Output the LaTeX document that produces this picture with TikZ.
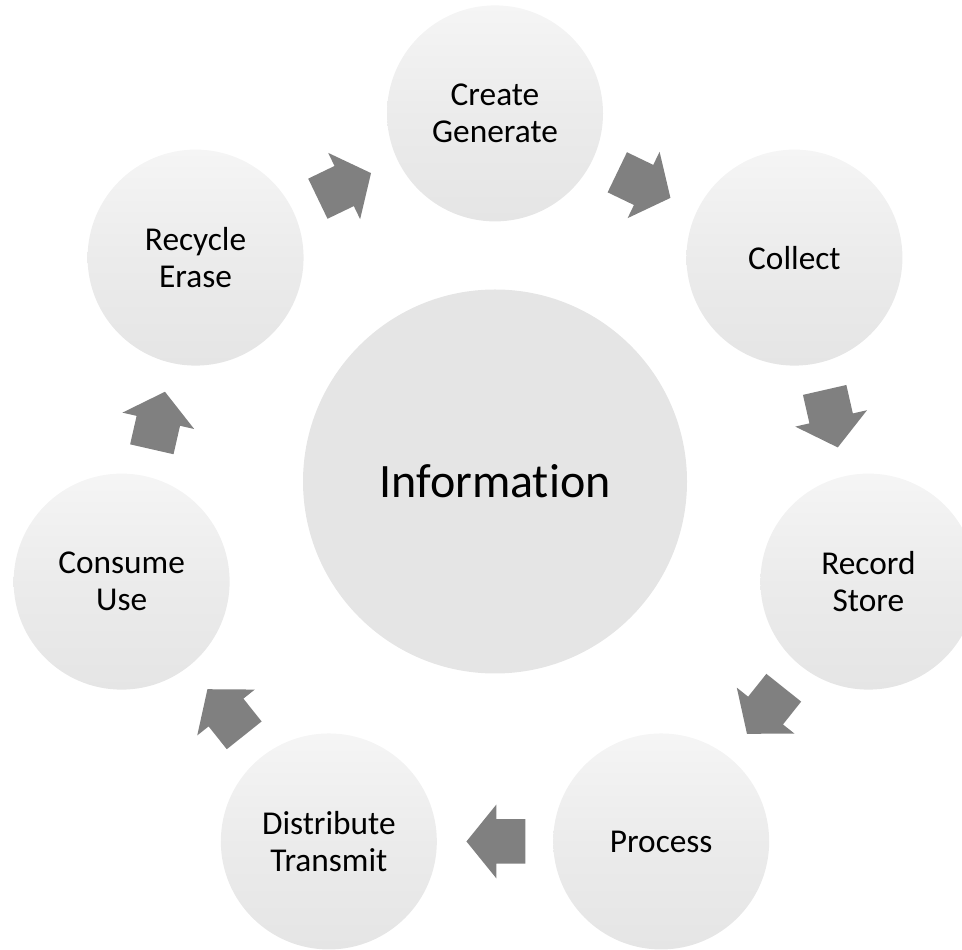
\documentclass[tikz,border=0pt]{standalone}
\usepackage{fontspec}
\setmainfont{Carlito}[Ligatures=NoCommon]
\usetikzlibrary{shapes.arrows}
\definecolor{bubble}{RGB}{229,229,229}
\definecolor{bubbletop}{RGB}{245,245,245}
\definecolor{arrowgray}{RGB}{128,128,128}
\newcommand{\ringrad}{383}

\begin{document}
\begin{tikzpicture}[x=0.75pt,y=0.75pt,
    stage/.style={circle, minimum size=162pt, inner sep=0pt, align=center,
      top color=bubbletop, bottom color=bubble, middle color=bubble!60!bubbletop,
      font=\fontsize{25}{28}\selectfont},
    hub/.style={circle, minimum size=288pt, inner sep=0pt, fill=bubble,
      font=\fontsize{36}{42}\selectfont},
    flow/.style={single arrow, fill=arrowgray, draw=none, sloped, allow upside down,
      pos=0.414, inner xsep=0pt, inner ysep=16.5pt, minimum height=44.25pt,
      single arrow head extend=10.9pt, single arrow tip angle=102}]
  \useasboundingbox (0,0) rectangle (962,949);
  \coordinate (ring) at (495,452.6);

  \node[hub] (info) at (495,467.5) {Information};

  % the seven stages, clockwise from the top
  \foreach \lbl [count=\i] in {{Create\\Generate}, {Collect}, {Record\\Store},
      {Process}, {Distribute\\Transmit}, {Consume\\Use}, {Recycle\\Erase}}
    {
      \pgfmathsetmacro\ang{90-(\i-1)*360/7}
      \node[stage] (s\i) at ([shift={(\ang:\ringrad)}]ring) {\lbl};
    }

  % block arrows between neighbours
  \foreach \i in {1,...,7}
    {
      \pgfmathtruncatemacro\j{mod(\i,7)+1}
      \path (s\i) -- node[flow] (a\i) {} (s\j);
    }
\end{tikzpicture}
\end{document}
